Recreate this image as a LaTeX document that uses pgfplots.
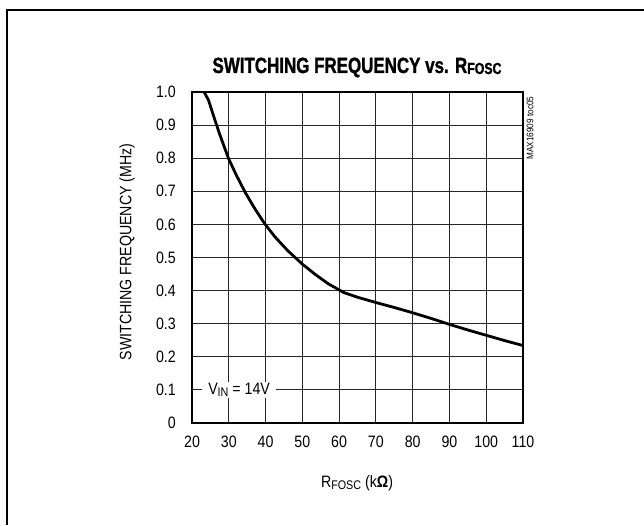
\documentclass[border=0pt]{standalone}
\usepackage{pgfplots}
\pgfplotsset{compat=1.18}
\usepackage{fontspec}
\setmainfont{Liberation Sans}[FakeStretch=0.86]
\newfontfamily\titlefont{Liberation Sans}[FakeStretch=0.77, BoldFeatures={FakeBold=1.2}]

\pgfplotstableread{
r f
23.3 1.000
24.5 0.975
25.8 0.930
27.5 0.873
29.9 0.800
32.0 0.750
34.5 0.696
37.0 0.649
39.7 0.603
42.5 0.563
46.0 0.521
50.0 0.480
53.5 0.449
57.0 0.421
61.3 0.394
65.0 0.380
70.0 0.364
75.0 0.349
80.0 0.333
85.0 0.316
90.0 0.298
95.0 0.281
100.0 0.265
105.0 0.249
110.0 0.234
}\freqdata

\begin{document}
\begin{tikzpicture}[x=1pt,y=1pt]
\useasboundingbox (0,0) rectangle (644,525);
\draw[line width=2pt] (7,0) -- (7,515) -- (644,515);

\begin{axis}[
    at={(192pt,102pt)}, anchor=south west,
    width=331pt, height=331pt, scale only axis,
    xmin=20, xmax=110, ymin=0, ymax=1,
    xtick={20,30,40,50,60,70,80,90,100,110},
    ytick={0,0.1,0.2,0.3,0.4,0.5,0.6,0.7,0.8,0.9,1.0},
    yticklabels={0,0.1,0.2,0.3,0.4,0.5,0.6,0.7,0.8,0.9,1.0},
    /pgf/number format/assume math mode=true,
    grid=major,
    grid style={black!85, line width=0.9pt},
    axis line style={line width=2.6pt},
    major tick length=0pt,
    tick label style={font=\fontsize{16.5}{18}\selectfont, inner sep=0pt},
    yticklabel style={xshift=-16pt},
    xticklabel style={yshift=-13pt},
]
\addplot[black, line width=2.8pt, line join=round] table[x=r, y=f] {\freqdata};
\node[fill=white, inner xsep=6pt, inner ysep=1pt, font=\fontsize{16.5}{18}\selectfont]
    at (axis cs:32.8,0.1) {V\raisebox{-2.5pt}{\fontsize{12.5}{12}\selectfont IN} = 14V};
\end{axis}

\node[anchor=base] at (357,452)
    {\titlefont\bfseries\fontsize{22}{24}\selectfont SWITCHING FREQUENCY vs. R\raisebox{-1pt}{\fontsize{16}{16}\selectfont FOSC}};
\node[font=\fontsize{16.5}{18}\selectfont] at (357,42)
    {R\raisebox{-2pt}{\fontsize{12.5}{12}\selectfont FOSC} (k\textbf{Ω})};
\node[rotate=90, font=\fontsize{16.5}{18}\selectfont] at (127,273)
    {SWITCHING FREQUENCY (MHz)};
\node[rotate=90, font=\fontsize{9.5}{10}\selectfont] at (530,397)
    {MAX16909 toc05};
\end{tikzpicture}
\end{document}
